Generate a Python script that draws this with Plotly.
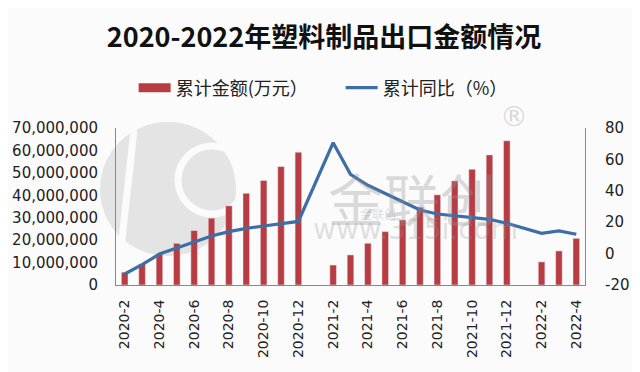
import plotly.graph_objects as go

months = (["2020-%d" % m for m in range(2, 13)] +
          ["2021-%d" % m for m in range(1, 13)] +
          ["2022-%d" % m for m in range(1, 5)])

amount = [5.7e6, 9.4e6, 13.8e6, 18.6e6, 24.3e6, 29.8e6, 35.3e6, 40.9e6, 46.6e6, 52.8e6, 59.2e6,
          None, 8.9e6, 13.4e6, 18.6e6, 23.8e6, 29.0e6, 34.7e6, 40.2e6, 46.4e6, 51.6e6, 58.0e6, 64.3e6,
          None, 10.3e6, 15.2e6, 20.8e6]

yoy = [-13.0, -7.0, -0.3, 3.4, 7.6, 11.2, 14.0, 16.1, 17.6, 19.3, 20.5,
       None, 70.6, 50.5, 43.5, 38.4, 33.0, 27.8, 25.2, 24.0, 23.0, 21.8, 19.3,
       None, 12.9, 14.4, 12.3]

tick_labels = months[0::2]
left_ticks = [0, 10e6, 20e6, 30e6, 40e6, 50e6, 60e6, 70e6]
right_ticks = [-20, 0, 20, 40, 60, 80]
right_tick_text = ["-20", "0", "20", "40", "60", "80"]

bar_color = "#B83D42"
line_color = "#3D6EA6"
font_cn = "Noto Sans CJK SC"

# page has an 8px body margin: figure is drawn 8px in from the window's corner
OFF = 8
W, H = 640 - OFF, 372 - OFF
# plot-area geometry in window pixels
L, R, T, B = 116, 585, 128, 285


def px(x):
    return (x - L) / (R - L)


def py(y):
    return 1 - (y - T) / (B - T)


fig = go.Figure()
fig.add_trace(go.Bar(x=months, y=amount, name="累计金额(万元）", marker_color=bar_color,
                     yaxis="y", showlegend=False))
fig.add_trace(go.Scatter(x=[None], y=[None], name="累计金额(万元）", mode="lines",
                         line=dict(color=bar_color, width=9)))
fig.add_trace(go.Scatter(x=months, y=yoy, name="累计同比（%）", mode="lines",
                         line=dict(color=line_color, width=3.2), connectgaps=True, yaxis="y2"))

# watermark logo (light gray disc with white cut-outs)
fig.add_shape(type="circle", xref="paper", yref="paper", layer="below",
              x0=px(100), x1=px(236), y0=py(256), y1=py(122),
              fillcolor="#DCDCDC", line=dict(width=0), opacity=0.75)
fig.add_shape(type="circle", xref="paper", yref="paper", layer="below",
              x0=px(178), x1=px(246), y0=py(214), y1=py(146),
              fillcolor="rgba(0,0,0,0)", line=dict(color="#FBFBFB", width=7))
fig.add_shape(type="line", xref="paper", yref="paper", layer="below",
              x0=px(134), x1=px(121), y0=py(130), y1=py(248),
              line=dict(color="#FBFBFB", width=7))

# watermark texts
fig.add_annotation(text="金联创", x=px(412), y=py(154), xref="paper", yref="paper", showarrow=False,
                   font=dict(family=font_cn, size=56, color="rgba(150,150,150,0.33)"))
fig.add_annotation(text="金联创", x=px(378), y=py(213), xref="paper", yref="paper", showarrow=False,
                   font=dict(family=font_cn, size=12, color="rgba(150,150,150,0.33)"))
fig.add_annotation(text="www.315i.com", x=px(415), y=py(248), xref="paper", yref="paper",
                   showarrow=False,
                   font=dict(family="DejaVu Sans", size=28, color="rgba(150,150,150,0.28)"))
fig.add_annotation(text="®", x=px(530), y=py(98), xref="paper", yref="paper", showarrow=False,
                   font=dict(family="DejaVu Sans", size=28, color="rgba(150,150,150,0.35)"))

fig.update_layout(
    width=W, height=H,
    margin=dict(l=L - OFF, r=640 - R, t=T - OFF, b=372 - B, autoexpand=False),
    paper_bgcolor="#FBFBFB", plot_bgcolor="rgba(0,0,0,0)",
    title=dict(text="<b>2020-2022年塑料制品出口金额情况</b>", x=0.5, xanchor="center",
               y=1 - (38 - OFF) / H, yanchor="middle",
               font=dict(family=font_cn, size=27, color="#111")),
    font=dict(family=font_cn, color="#222"),
    bargap=0.62,
    showlegend=True,
    legend=dict(orientation="h", x=0.479, xanchor="center", y=py(88), yanchor="middle",
                font=dict(family=font_cn, size=18, color="#222"), itemwidth=32,
                entrywidth=160, bgcolor="rgba(0,0,0,0)"),
    xaxis=dict(type="category", categoryorder="array", categoryarray=months,
               tickmode="array", tickvals=tick_labels, ticktext=tick_labels, automargin=False,
               tickangle=-90, tickfont=dict(family="DejaVu Sans", size=14, color="#222"),
               showline=True, linecolor="#888", linewidth=1, showgrid=False, ticks="",
               ticklabelstandoff=8),
    yaxis=dict(range=[0, 70e6], tickvals=left_ticks, tickformat=",d", automargin=False,
               tickfont=dict(family="DejaVu Sans", size=15, color="#222"),
               showline=True, linecolor="#888", linewidth=1, showgrid=False, zeroline=False,
               ticks="", ticklabelstandoff=14),
    yaxis2=dict(range=[-20, 80], tickmode="array", tickvals=right_ticks, ticktext=right_tick_text,
                overlaying="y", side="right", automargin=False,
                tickfont=dict(family="DejaVu Sans", size=15, color="#222"),
                showline=True, linecolor="#888", linewidth=1, showgrid=False, zeroline=False,
                ticks="", ticklabelstandoff=16),
)

fig.write_html("out.html")
